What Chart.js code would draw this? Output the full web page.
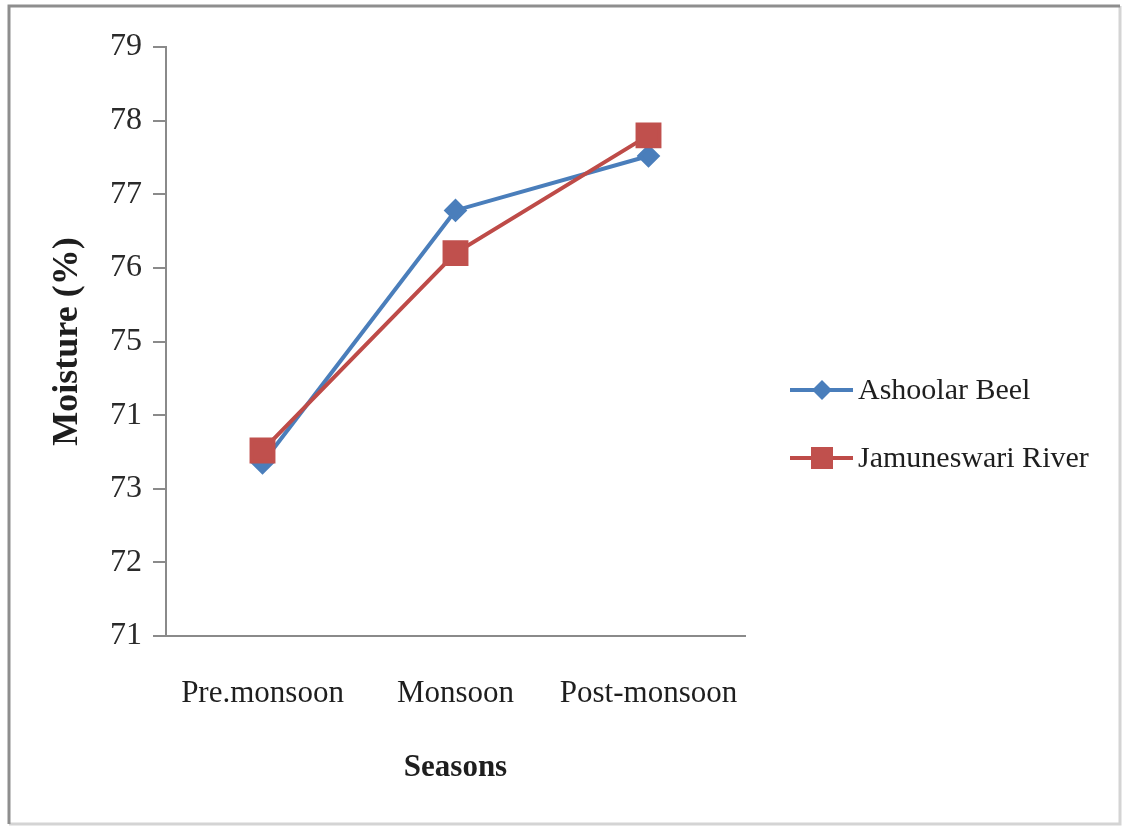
<!DOCTYPE html>
<html>
<head>
<meta charset="utf-8">
<script src="https://cdn.jsdelivr.net/npm/chart.js@4/dist/chart.umd.min.js"></script>
<style>
  html, body { margin: 0; padding: 0; background: #fff; }
  #wrap { width: 1125px; height: 831px; position: relative; }
</style>
</head>
<body>
<div id="wrap"><canvas id="moistureChart" width="1125" height="831"></canvas></div>
<script>
const seasons = ["Pre.monsoon", "Monsoon", "Post-monsoon"];
const ashoolarBeel = [73.35, 76.78, 77.52];
const jamuneswariRiver = [73.52, 76.2, 77.8];
// tick labels bottom to top, as printed (the 74 reads "71" in the original)
const yTickLabels = ["71", "72", "73", "71", "75", "76", "77", "78", "79"];

const serif = "'Liberation Serif', 'Times New Roman', serif";

// frame round the whole picture
const framePlugin = {
  id: "frame",
  beforeDraw(chart) {
    const c = chart.ctx;
    c.save();
    c.fillStyle = "#fff";
    c.fillRect(0, 0, chart.width, chart.height);
    c.lineWidth = 3;
    c.strokeStyle = "#d4d4d4";
    c.beginPath();
    c.moveTo(1120, 6); c.lineTo(1120, 824); c.lineTo(9, 824);
    c.stroke();
    c.strokeStyle = "#8e8e8e";
    c.beginPath();
    c.moveTo(9, 824); c.lineTo(9, 6); c.lineTo(1120, 6);
    c.stroke();
    c.restore();
  }
};

// legend on the right: line + marker + label
const legendPlugin = {
  id: "sideLegend",
  afterDraw(chart) {
    const c = chart.ctx;
    const ys = [390, 458];
    chart.data.datasets.forEach((ds, i) => {
      const y = ys[i];
      c.save();
      c.strokeStyle = ds.borderColor;
      c.lineWidth = 4;
      c.beginPath();
      c.moveTo(790, y);
      c.lineTo(853, y);
      c.stroke();
      c.fillStyle = ds.pointBackgroundColor;
      c.beginPath();
      if (ds.pointStyle === "rectRot") {
        c.moveTo(822, y - 10); c.lineTo(832, y); c.lineTo(822, y + 10); c.lineTo(812, y);
      } else {
        c.rect(811, y - 11, 22, 22);
      }
      c.fill();
      c.fillStyle = "#1e1e1e";
      c.font = "30px " + serif;
      c.textBaseline = "middle";
      c.fillText(ds.label, 858, y + 1);
      c.restore();
    });
  }
};

new Chart(document.getElementById("moistureChart"), {
  type: "line",
  data: {
    labels: seasons,
    datasets: [
      {
        label: "Ashoolar Beel",
        data: ashoolarBeel,
        borderColor: "#4a7ebb",
        backgroundColor: "#4a7ebb",
        pointBackgroundColor: "#4a7ebb",
        pointBorderColor: "#4a7ebb",
        borderWidth: 4,
        pointStyle: "rectRot",
        pointRadius: 9,
        tension: 0,
        order: 1
      },
      {
        label: "Jamuneswari River",
        data: jamuneswariRiver,
        borderColor: "#be4b48",
        backgroundColor: "#be4b48",
        pointBackgroundColor: "#c0504d",
        pointBorderColor: "#c0504d",
        borderWidth: 4,
        pointStyle: "rect",
        pointRadius: 15.5,
        tension: 0,
        order: 0
      }
    ]
  },
  options: {
    responsive: false,
    animation: false,
    layout: { padding: { left: 0, top: 47, right: 380, bottom: 0 } },
    plugins: {
      legend: { display: false },
      tooltip: { enabled: false }
    },
    scales: {
      x: {
        offset: true,
        afterFit(scale) { scale.height = 831 - 636; },
        grid: { display: false, drawTicks: false },
        border: { display: true, color: "#8a8a8a", width: 2 },
        ticks: {
          color: "#1e1e1e",
          padding: 39,
          font: { family: serif, size: 31 },
          maxRotation: 0
        },
        title: {
          display: true,
          text: "Seasons",
          color: "#1e1e1e",
          font: { family: serif, size: 31, weight: "bold" },
          padding: { top: 44, bottom: 44 }
        }
      },
      y: {
        min: 71,
        max: 79,
        afterFit(scale) { scale.width = 166; },
        grid: { drawOnChartArea: false, drawTicks: true, tickLength: 13, color: "#8a8a8a", lineWidth: 2 },
        border: { display: true, color: "#8a8a8a", width: 2 },
        ticks: {
          stepSize: 1,
          color: "#2a2a2a",
          padding: 11,
          font: { family: serif, size: 32 },
          callback: (v, i) => yTickLabels[i]
        },
        title: {
          display: true,
          text: "Moisture (%)",
          color: "#1e1e1e",
          font: { family: serif, size: 36, weight: "bold" },
          padding: { top: 46, bottom: 46 }
        }
      }
    }
  },
  plugins: [framePlugin, legendPlugin]
});
</script>
</body>
</html>
